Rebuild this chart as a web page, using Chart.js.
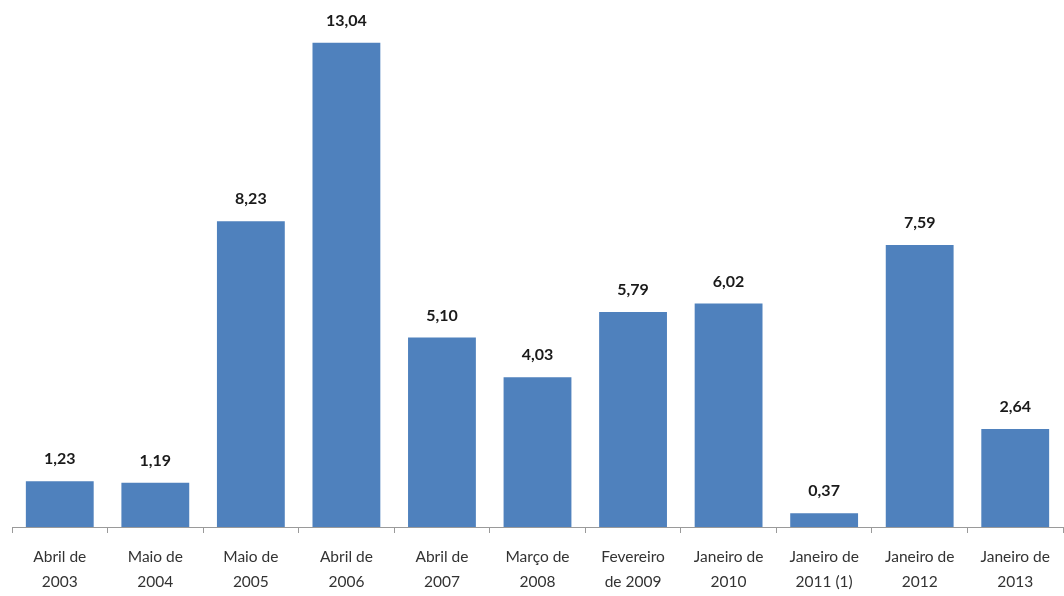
<!doctype html>
<html>
<head>
    <meta charset="utf-8">
    <title>Variação por período</title>
    <script src="https://cdn.jsdelivr.net/npm/chart.js"></script>
    <style>
        body { margin: 0; background: #fff; }
        #caixa { width: 1064px; height: 596px; }
    </style>
</head>
<body>
    <div id="caixa">
        <canvas id="grafico"></canvas>
    </div>

    <script>
        // Períodos (eixo X) e valores de cada barra
        var periodos = [
            ['Abril de', '2003'], ['Maio de', '2004'], ['Maio de', '2005'],
            ['Abril de', '2006'], ['Abril de', '2007'], ['Março de', '2008'],
            ['Fevereiro', 'de 2009'], ['Janeiro de', '2010'], ['Janeiro de', '2011 (1)'],
            ['Janeiro de', '2012'], ['Janeiro de', '2013']
        ];
        var valores = [1.23, 1.19, 8.23, 13.04, 5.10, 4.03, 5.79, 6.02, 0.37, 7.59, 2.64];

        var fonte = "Lato, 'Open Sans', sans-serif";

        // Escreve o valor acima de cada barra, com vírgula decimal
        var rotulosValores = {
            id: 'rotulosValores',
            afterDatasetsDraw: function (chart) {
                var ctx = chart.ctx;
                var meta = chart.getDatasetMeta(0);
                ctx.save();
                ctx.font = 'bold 16px ' + fonte;
                ctx.fillStyle = '#1a1a1a';
                ctx.textAlign = 'center';
                ctx.textBaseline = 'bottom';
                meta.data.forEach(function (barra, i) {
                    var texto = valores[i].toFixed(2).replace('.', ',');
                    ctx.fillText(texto, barra.x, barra.y - 14);
                });
                ctx.restore();
            }
        };

        var grafico = new Chart(document.getElementById('grafico').getContext('2d'), {
            type: 'bar',
            data: {
                labels: periodos,
                datasets: [{
                    data: valores,
                    backgroundColor: '#4F81BD',
                    borderWidth: 0,
                    categoryPercentage: 1,
                    barPercentage: 0.71
                }]
            },
            options: {
                responsive: true,
                maintainAspectRatio: false,
                animation: false,
                layout: {
                    padding: { top: 7, left: 12, right: 1, bottom: 0 }
                },
                plugins: {
                    legend: { display: false },
                    tooltip: { enabled: false }
                },
                scales: {
                    x: {
                        grid: {
                            drawOnChartArea: false,
                            drawTicks: true,
                            tickLength: 6,
                            color: '#9a9a9a'
                        },
                        border: { display: true, color: '#9a9a9a' },
                        ticks: {
                            color: '#333',
                            font: { family: fonte, size: 15.5, lineHeight: 1.65 },
                            maxRotation: 0,
                            autoSkip: false,
                            padding: 11
                        },
                        // altura fixa da faixa de rótulos para a base ficar em y=527
                        afterFit: function (escala) { escala.height = 69; }
                    },
                    y: {
                        display: false,
                        min: 0,
                        max: 14
                    }
                }
            },
            plugins: [rotulosValores]
        });
    </script>
</body>
</html>
